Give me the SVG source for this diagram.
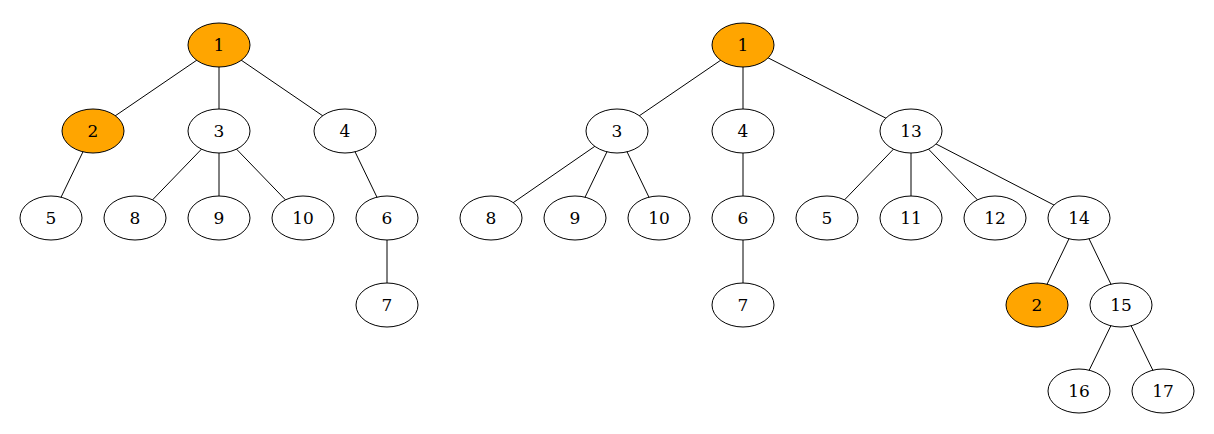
<svg xmlns="http://www.w3.org/2000/svg" width="1214" height="434" viewBox="0 0 1214 434">
<style>
.n ellipse{fill:#fff;stroke:#000;stroke-width:1}
.n.h ellipse{fill:#ffa500}
.n text{font-family:"DejaVu Serif",serif;font-size:17px;text-anchor:middle;dominant-baseline:central;fill:#000}
#edges line{stroke:#000;stroke-width:1}
</style>
<rect width="1214" height="434" fill="#fff"/>
<g id="edges">
<line x1="219" y1="45" x2="93" y2="131"/>
<line x1="219" y1="45" x2="219" y2="131"/>
<line x1="219" y1="45" x2="345" y2="131"/>
<line x1="93" y1="131" x2="51" y2="218"/>
<line x1="219" y1="131" x2="135" y2="218"/>
<line x1="219" y1="131" x2="219" y2="218"/>
<line x1="219" y1="131" x2="303" y2="218"/>
<line x1="345" y1="131" x2="387" y2="218"/>
<line x1="387" y1="218" x2="387" y2="305"/>
<line x1="743" y1="45" x2="617" y2="131"/>
<line x1="743" y1="45" x2="743" y2="131"/>
<line x1="743" y1="45" x2="911" y2="131"/>
<line x1="617" y1="131" x2="491" y2="218"/>
<line x1="617" y1="131" x2="575" y2="218"/>
<line x1="617" y1="131" x2="659" y2="218"/>
<line x1="743" y1="131" x2="743" y2="218"/>
<line x1="743" y1="218" x2="743" y2="305"/>
<line x1="911" y1="131" x2="827" y2="218"/>
<line x1="911" y1="131" x2="911" y2="218"/>
<line x1="911" y1="131" x2="995" y2="218"/>
<line x1="911" y1="131" x2="1079" y2="218"/>
<line x1="1079" y1="218" x2="1037" y2="305"/>
<line x1="1079" y1="218" x2="1121" y2="305"/>
<line x1="1121" y1="305" x2="1079" y2="391"/>
<line x1="1121" y1="305" x2="1163" y2="391"/>
</g>
<g id="L1" class="n h"><ellipse cx="219" cy="45" rx="31" ry="22"/><text x="219" y="45">1</text></g>
<g id="L2" class="n h"><ellipse cx="93" cy="131" rx="31" ry="22"/><text x="93" y="131">2</text></g>
<g id="L3" class="n"><ellipse cx="219" cy="131" rx="31" ry="22"/><text x="219" y="131">3</text></g>
<g id="L4" class="n"><ellipse cx="345" cy="131" rx="31" ry="22"/><text x="345" y="131">4</text></g>
<g id="L5" class="n"><ellipse cx="51" cy="218" rx="31" ry="22"/><text x="51" y="218">5</text></g>
<g id="L8" class="n"><ellipse cx="135" cy="218" rx="31" ry="22"/><text x="135" y="218">8</text></g>
<g id="L9" class="n"><ellipse cx="219" cy="218" rx="31" ry="22"/><text x="219" y="218">9</text></g>
<g id="L10" class="n"><ellipse cx="303" cy="218" rx="31" ry="22"/><text x="303" y="218">10</text></g>
<g id="L6" class="n"><ellipse cx="387" cy="218" rx="31" ry="22"/><text x="387" y="218">6</text></g>
<g id="L7" class="n"><ellipse cx="387" cy="305" rx="31" ry="22"/><text x="387" y="305">7</text></g>
<g id="R1" class="n h"><ellipse cx="743" cy="45" rx="31" ry="22"/><text x="743" y="45">1</text></g>
<g id="R3" class="n"><ellipse cx="617" cy="131" rx="31" ry="22"/><text x="617" y="131">3</text></g>
<g id="R4" class="n"><ellipse cx="743" cy="131" rx="31" ry="22"/><text x="743" y="131">4</text></g>
<g id="R13" class="n"><ellipse cx="911" cy="131" rx="31" ry="22"/><text x="911" y="131">13</text></g>
<g id="R8" class="n"><ellipse cx="491" cy="218" rx="31" ry="22"/><text x="491" y="218">8</text></g>
<g id="R9" class="n"><ellipse cx="575" cy="218" rx="31" ry="22"/><text x="575" y="218">9</text></g>
<g id="R10" class="n"><ellipse cx="659" cy="218" rx="31" ry="22"/><text x="659" y="218">10</text></g>
<g id="R6" class="n"><ellipse cx="743" cy="218" rx="31" ry="22"/><text x="743" y="218">6</text></g>
<g id="R5" class="n"><ellipse cx="827" cy="218" rx="31" ry="22"/><text x="827" y="218">5</text></g>
<g id="R11" class="n"><ellipse cx="911" cy="218" rx="31" ry="22"/><text x="911" y="218">11</text></g>
<g id="R12" class="n"><ellipse cx="995" cy="218" rx="31" ry="22"/><text x="995" y="218">12</text></g>
<g id="R14" class="n"><ellipse cx="1079" cy="218" rx="31" ry="22"/><text x="1079" y="218">14</text></g>
<g id="R7" class="n"><ellipse cx="743" cy="305" rx="31" ry="22"/><text x="743" y="305">7</text></g>
<g id="R2" class="n h"><ellipse cx="1037" cy="305" rx="31" ry="22"/><text x="1037" y="305">2</text></g>
<g id="R15" class="n"><ellipse cx="1121" cy="305" rx="31" ry="22"/><text x="1121" y="305">15</text></g>
<g id="R16" class="n"><ellipse cx="1079" cy="391" rx="31" ry="22"/><text x="1079" y="391">16</text></g>
<g id="R17" class="n"><ellipse cx="1163" cy="391" rx="31" ry="22"/><text x="1163" y="391">17</text></g>
</svg>
